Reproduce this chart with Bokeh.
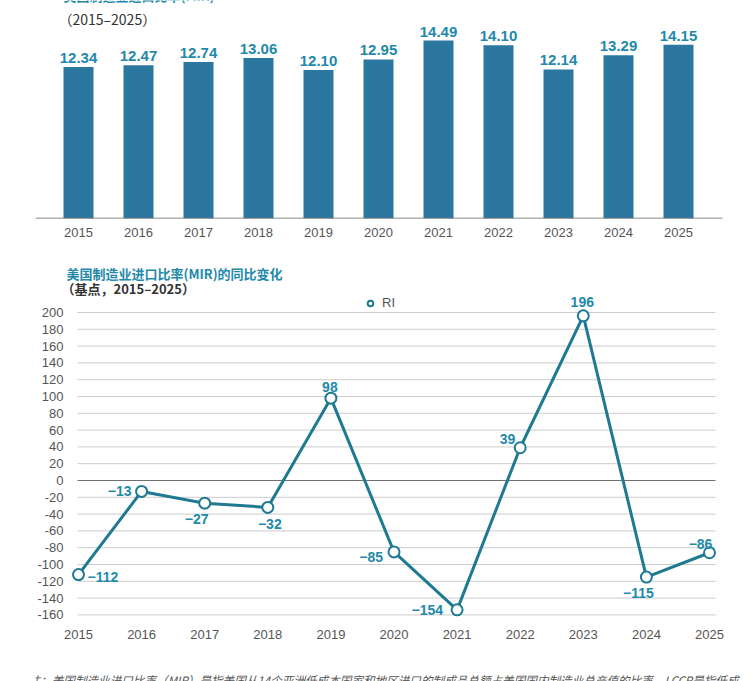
from bokeh.plotting import figure
from bokeh.layouts import column
from bokeh.models import Range1d, FixedTicker, Label, Legend, LegendItem, ColumnDataSource
from bokeh.core.properties import value
from bokeh.embed import file_html
from bokeh.resources import INLINE

# ---------------- data ----------------
years = [2015, 2016, 2017, 2018, 2019, 2020, 2021, 2022, 2023, 2024, 2025]
year_labels = ["2015", "2016", "2017", "2018", "2019", "2020", "2021", "2022", "2023", "2024", "2025"]
mir = [12.34, 12.47, 12.74, 13.06, 12.10, 12.95, 14.49, 14.10, 12.14, 13.29, 14.15]
yoy = [-112, -13, -27, -32, 98, -85, -154, 39, 196, -115, -86]
yoy_ticks = [-160, -140, -120, -100, -80, -60, -40, -20, 0, 20, 40, 60, 80, 100, 120, 140, 160, 180, 200]
# where each change label sits relative to its point (style only)
yoy_place = ["right", "left", "belowleft", "below", "above", "lowleft", "farleft", "upleft", "abovehigh", "belowleft", "aboveleft"]

title1a = "美国制造业进口比率(MIR)"
title1b = "（2015–2025）"
title2a = "美国制造业进口比率(MIR)的同比变化"
title2b = "（基点，2015–2025）"
legend_label = "RI"
footnote = "注：美国制造业进口比率（MIR）是指美国从14个亚洲低成本国家和地区进口的制成品总额占美国国内制造业总产值的比率，LCCR是指低成"

def fmt_signed(v):
    return ("\u2212" + str(abs(v))) if v < 0 else str(v)

BAR = "#2c77a0"
TEAL = "#2389aa"
LINE = "#1f7a91"
GRAY = "#555555"
CJK = "Noto Sans CJK SC"
LAT = "Liberation Sans"

W = 751
BL, BR = 35, 0           # shared left / right borders -> both frames span x 35..751

# ---------------- top chart: bars ----------------
# frame: x 35..751, y 0..218 ; 60 px per year (2015 at x=78), 12.28 px per unit
def tx(px):
    return 2015 + (px - 78) / 60.0
def ty(py):
    return (218 - py) / 12.28

p1 = figure(width=W, height=250, x_range=Range1d(tx(BL), tx(W - BR)), y_range=Range1d(ty(218), ty(0)),
            output_backend="svg", toolbar_location=None, y_axis_location=None,
            min_border_left=BL, min_border_right=BR, min_border_top=0, min_border_bottom=32)
p1.outline_line_color = None
p1.grid.visible = False
p1.background_fill_color = "white"

src1 = ColumnDataSource(dict(x=years, top=mir, lab=[f"{v:.2f}" for v in mir]))
p1.vbar(x="x", top="top", width=0.5, source=src1, fill_color=BAR, line_color=None)
p1.text(x="x", y="top", text="lab", source=src1, text_align="center", text_baseline="bottom",
        y_offset=-4, text_font=value(LAT), text_font_style="bold", text_font_size="15px",
        text_color=TEAL)
# baseline rule of the bar chart (x 35..722)
p1.segment(x0=[tx(35)], x1=[tx(722)], y0=[0], y1=[0], line_color="#666666", line_width=1.5)

ax = p1.xaxis[0]
ax.ticker = FixedTicker(ticks=years)
ax.major_label_overrides = {y: l for y, l in zip(years, year_labels)}
ax.axis_line_color = None
ax.major_tick_line_color = None
ax.major_tick_out = 0
ax.major_tick_in = 0
ax.minor_tick_line_color = None
ax.major_label_standoff = 9
ax.major_label_text_font = LAT
ax.major_label_text_font_size = "13px"
ax.major_label_text_color = GRAY

p1.add_layout(Label(x=tx(63), y=ty(4), text=title1a, text_font=CJK, text_font_size="13px",
                    text_font_style="bold", text_color=TEAL, text_baseline="bottom"))
p1.add_layout(Label(x=tx(58), y=ty(8), text=title1b, text_font=CJK, text_font_size="14px",
                    text_color="#333333", text_baseline="top"))

# ---------------- bottom chart: line ----------------
# canvas starts at y=250 ; frame: x 35..751, y 250..681 ; 63.1 px per year (2015 at x=78),
# 0.84 px per unit (0 at y=480)
def bx(px):
    return 2015 + (px - 78) / 63.1
def by(py):
    return (480 - py) / 0.84

P2_BOTTOM = 681
p2 = figure(width=W, height=431, x_range=Range1d(bx(BL), bx(W - BR)), y_range=Range1d(by(P2_BOTTOM), by(250)),
            output_backend="svg", toolbar_location=None,
            min_border_left=BL, min_border_right=BR, min_border_top=0, min_border_bottom=0)
p2.outline_line_color = None
p2.grid.visible = False

grid_y = [t for t in yoy_ticks if t != 0]
p2.segment(x0=bx(77), x1=bx(715), y0=grid_y, y1=grid_y, line_color="#cccccc", line_width=1)
p2.segment(x0=[bx(77)], x1=[bx(715)], y0=[0], y1=[0], line_color="#707070", line_width=1)

p2.line(years, yoy, line_color=LINE, line_width=3)
sc = p2.scatter(years, yoy, size=11, marker="circle", fill_color="white", line_color=LINE, line_width=2)

place_style = {
    "right": ("left", "middle", 9, 2),
    "left": ("right", "middle", -10, 0),
    "farleft": ("right", "middle", -14, 0),
    "lowleft": ("right", "middle", -11, 5),
    "upleft": ("right", "middle", -5, -9),
    "below": ("center", "top", 2, 12),
    "belowleft": ("center", "top", -8, 11),
    "above": ("center", "bottom", -1, -6),
    "abovehigh": ("center", "bottom", -1, -9),
    "aboveleft": ("center", "bottom", -9, -4),
}
for yr, v, pl in zip(years, yoy, yoy_place):
    al, bl, dx, dy = place_style[pl]
    p2.text(x=[yr], y=[v], text=[fmt_signed(v)], text_align=al, text_baseline=bl,
            x_offset=dx, y_offset=dy, text_font=value(LAT), text_font_style="bold",
            text_font_size="14px", text_color=TEAL)

ay = p2.yaxis[0]
ay.ticker = FixedTicker(ticks=yoy_ticks)
ay.major_label_overrides = {t: fmt_signed(t).replace("\u2212", "-") for t in yoy_ticks}
ay.axis_line_color = None
ay.major_tick_line_color = None
ay.major_tick_out = 0
ay.major_tick_in = 0
ay.minor_tick_line_color = None
ay.major_label_standoff = -(63 - BL)     # right edge of tick labels at x=63
ay.major_label_text_font = LAT
ay.major_label_text_font_size = "13px"
ay.major_label_text_color = GRAY

ax2 = p2.xaxis[0]
ax2.ticker = FixedTicker(ticks=years)
ax2.major_label_overrides = {y: l for y, l in zip(years, year_labels)}
ax2.axis_line_color = None
ax2.major_tick_line_color = None
ax2.major_tick_out = 0
ax2.major_tick_in = 0
ax2.minor_tick_line_color = None
ax2.major_label_standoff = 629 - P2_BOTTOM   # labels sit just under the -160 line
ax2.major_label_text_font = LAT
ax2.major_label_text_font_size = "13px"
ax2.major_label_text_color = GRAY

p2.add_layout(Label(x=bx(66), y=by(263), text=title2a, text_font=CJK, text_font_size="13px",
                    text_font_style="bold", text_color=TEAL, text_baseline="top"))
p2.add_layout(Label(x=bx(61), y=by(278), text=title2b, text_font=CJK, text_font_size="13px",
                    text_font_style="bold", text_color="#333333", text_baseline="top"))

leg = Legend(items=[LegendItem(label=legend_label, renderers=[sc])],
             location=(363 - BL, P2_BOTTOM - 310),
             padding=0, margin=0, spacing=0, glyph_width=14, glyph_height=14, label_height=14,
             label_standoff=5, label_text_font=LAT, label_text_font_size="13px",
             label_text_color=GRAY, border_line_color=None, background_fill_alpha=0)
p2.add_layout(leg)

p2.add_layout(Label(x=bx(28), y=by(671), text=footnote, text_font=CJK, text_font_size="11.6px",
                    text_font_style="italic", text_color=GRAY, text_baseline="top"))

layout = column(p1, p2, spacing=0)
open("out.html", "w").write(file_html(layout, INLINE))
